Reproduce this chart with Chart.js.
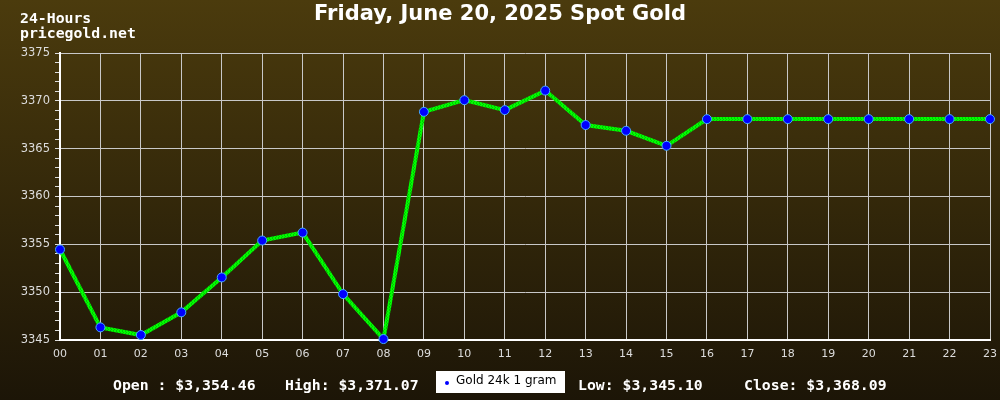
<!DOCTYPE html>
<html>
<head>
<meta charset="utf-8">
<script src="https://cdn.jsdelivr.net/npm/chart.js@4/dist/chart.umd.min.js"></script>
<style>
html,body{margin:0;padding:0;background:#000;}
#wrap{width:1000px;height:400px;position:relative;}
canvas{display:block;}
</style>
</head>
<body>
<div id="wrap"><canvas id="c" width="1000" height="400"></canvas></div>
<script>
const hours = ['00','01','02','03','04','05','06','07','08','09','10','11','12','13','14','15','16','17','18','19','20','21','22','23'];
const goldPrices = [3354.46,3346.32,3345.52,3347.89,3351.54,3355.40,3356.23,3349.80,3345.10,3368.85,3370.07,3369.03,3371.07,3367.47,3366.87,3365.30,3368.09,3368.09,3368.09,3368.09,3368.09,3368.09,3368.09,3368.09];
const seriesName = 'Gold 24k 1 gram';
const titleText = 'Friday, June 20, 2025 Spot Gold';
const cornerLines = ['24-Hours','pricegold.net'];
const footerItems = [
  {text:'Open : $3,354.46', x:113},
  {text:'High: $3,371.07', x:285},
  {text:'Low: $3,345.10', x:578},
  {text:'Close: $3,368.09', x:744}
];
const yMin = 3345, yMax = 3375;

// textured green stroke similar to the reference
const tile = document.createElement('canvas');
tile.width = 3; tile.height = 3;
const tctx = tile.getContext('2d');
tctx.fillStyle = '#00ff00'; tctx.fillRect(0,0,3,3);
tctx.fillStyle = '#00c800'; tctx.fillRect(2,0,1,2); tctx.fillRect(0,2,1,1);
const linePattern = tctx.createPattern(tile,'repeat');

const decor = {
  id:'decor',
  beforeDraw(chart){
    const ctx = chart.ctx;
    const g = ctx.createLinearGradient(0,0,0,400);
    g.addColorStop(0,'#4b3b0d');
    g.addColorStop(1,'#1c1507');
    ctx.save();
    ctx.fillStyle = g;
    ctx.fillRect(0,0,chart.width,chart.height);
    ctx.restore();
  },
  afterDraw(chart){
    const ctx = chart.ctx;
    ctx.save();
    ctx.fillStyle = '#ffffff';
    ctx.textBaseline = 'middle';
    ctx.textAlign = 'center';
    ctx.font = 'bold 21px "DejaVu Sans"';
    ctx.fillText(titleText, 500, 15);
    ctx.textAlign = 'left';
    ctx.font = 'bold 14.8px "DejaVu Sans Mono"';
    ctx.fillText(cornerLines[0], 20, 19);
    ctx.fillText(cornerLines[1], 20, 34);
    footerItems.forEach(f => ctx.fillText(f.text, f.x, 386));
    // legend box
    ctx.fillStyle = '#ffffff';
    ctx.fillRect(436, 371, 129, 22);
    ctx.fillStyle = '#0000ff';
    ctx.beginPath();
    ctx.arc(447, 383, 2, 0, Math.PI*2);
    ctx.fill();
    ctx.fillStyle = '#000000';
    ctx.font = '12px "DejaVu Sans"';
    ctx.fillText(seriesName, 456, 381);
    ctx.restore();
  }
};

new Chart(document.getElementById('c'), {
  type:'line',
  data:{
    labels:hours,
    datasets:[{
      label:seriesName,
      data:goldPrices,
      borderColor:linePattern,
      borderWidth:4,
      pointBackgroundColor:'#0000ff',
      pointBorderColor:'#44aaff',
      pointBorderWidth:1,
      pointRadius:4.5,
      tension:0,
      clip:false
    }]
  },
  options:{
    responsive:false,
    animation:false,
    devicePixelRatio:1,
    layout:{padding:{top:53,right:10,left:0,bottom:0}},
    plugins:{legend:{display:false},tooltip:{enabled:false},title:{display:false}},
    scales:{
      x:{
        offset:false,
        grid:{color:'#c8c8c8',lineWidth:1,drawTicks:false},
        border:{color:'#ffffff',width:2},
        ticks:{color:'#dddddd',font:{family:'DejaVu Sans',size:11},padding:8,maxRotation:0,autoSkip:false},
        afterFit(s){s.height = 60; s.paddingLeft = 0; s.paddingRight = 0;}
      },
      y:{
        min:yMin,max:yMax,
        grid:{
          color:c => (c.tick && Math.round(c.tick.value)%5===0) ? '#c8c8c8' : 'rgba(0,0,0,0)',
          tickColor:'#dddddd',
          tickLength:5,
          lineWidth:1
        },
        border:{color:'#ffffff',width:2},
        ticks:{
          stepSize:1,
          color:'#dddddd',
          font:{family:'DejaVu Sans',size:11.5},
          padding:5,
          autoSkip:false,
          callback:v => (Math.round(v)%5===0) ? String(v) : ''
        },
        afterFit(s){s.width = 60; s.paddingTop = 0; s.paddingBottom = 0;}
      }
    }
  },
  plugins:[decor]
});
</script>
</body>
</html>
